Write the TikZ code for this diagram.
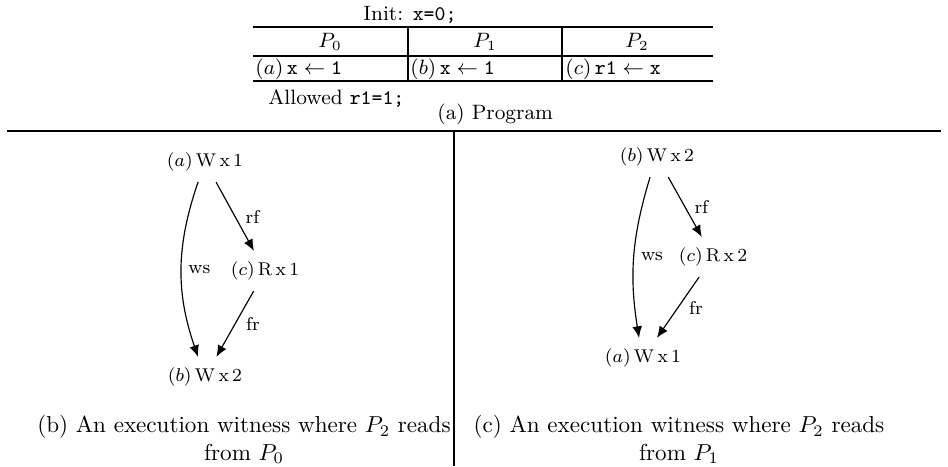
\documentclass[tikz,border=0pt]{standalone}
\usetikzlibrary{arrows.meta}
\begin{document}
\begin{tikzpicture}[x=0.4329pt,y=-0.4329pt,
  ev/.style={font=\footnotesize, inner sep=4.5pt, text height=6pt, text depth=2pt},
  rel/.style={-{Latex[length=5pt,width=4.2pt]}, line width=0.5pt},
  lab/.style={font=\footnotesize, inner sep=0pt},
  rulel/.style={line width=0.5pt},
  tab/.style={font=\small, inner sep=0pt},
  captxt/.style={font=\normalsize, align=center, inner sep=0pt}]
\useasboundingbox (0,0) rectangle (948,466);
% program table
\node[tab, anchor=west] (init) at (363,15) {Init: \texttt{x=0;}};
\draw[rulel] (253,27) -- (713,27);
\draw[rulel] (253,56) -- (713,56);
\draw[rulel] (253,81) -- (713,81);
\draw[rulel] (408,27) -- (408,81);
\draw[rulel] (562,27) -- (562,81);
\node[tab] (h0) at (330,42) {$P_0$};
\node[tab] (h1) at (485,42) {$P_1$};
\node[tab] (h2) at (637,42) {$P_2$};
\node[tab, anchor=west] (i0) at (255,69) {$(a)\,\texttt{x} \leftarrow \texttt{1}$};
\node[tab, anchor=west] (i1) at (410,69) {$(b)\,\texttt{x} \leftarrow \texttt{1}$};
\node[tab, anchor=west] (i2) at (565,69) {$(c)\,\texttt{r1} \leftarrow \texttt{x}$};
\node[tab, anchor=west] (allowed) at (268,99) {Allowed \texttt{r1=1;}};
\node[tab, anchor=west] (progcap) at (437,114) {(a) Program};
\draw[rulel] (7,131) -- (941,131);
\draw[rulel] (454,131) -- (454,466);
% left witness
\node[ev] (la) at (205,162) {$(a)\,\mathrm{W\,x\,1}$};
\node[ev] (lc) at (265,271) {$(c)\,\mathrm{R\,x\,1}$};
\node[ev] (lb) at (205,377) {$(b)\,\mathrm{W\,x\,2}$};
\draw[rel] (la) -- node[lab, pos=.5, xshift=7.6pt] (lrf) {rf} (lc);
\draw[rel] ([xshift=-3pt]la.south) to[bend right=19] node[lab, pos=.5, xshift=7.8pt] (lws) {ws} ([xshift=-3pt]lb.north);
\draw[rel] (lc) -- node[lab, pos=.5, xshift=7.8pt] (lfr) {fr} (lb);
\node[captxt] (lcap) at (244,439.5) {(b) An execution witness where $P_2$ reads\\from $P_0$};
% right witness
\node[ev] (rb) at (657,157) {$(b)\,\mathrm{W\,x\,2}$};
\node[ev] (rc) at (713,257) {$(c)\,\mathrm{R\,x\,2}$};
\node[ev] (ra) at (643,358) {$(a)\,\mathrm{W\,x\,1}$};
\draw[rel] (rb) -- node[lab, pos=.5, xshift=7.1pt] (rrf) {rf} (rc);
\draw[rel] ([xshift=-3pt]rb.south) to[bend right=13] node[lab, pos=.5, xshift=7.8pt] (rws) {ws} ([xshift=-1.7pt]ra.north);
\draw[rel] (rc) -- node[lab, pos=.5, xshift=7.8pt] (rfr) {fr} (ra);
\node[captxt] (rcap) at (679,439.5) {(c) An execution witness where $P_2$ reads\\from $P_1$};
\end{tikzpicture}
\end{document}
